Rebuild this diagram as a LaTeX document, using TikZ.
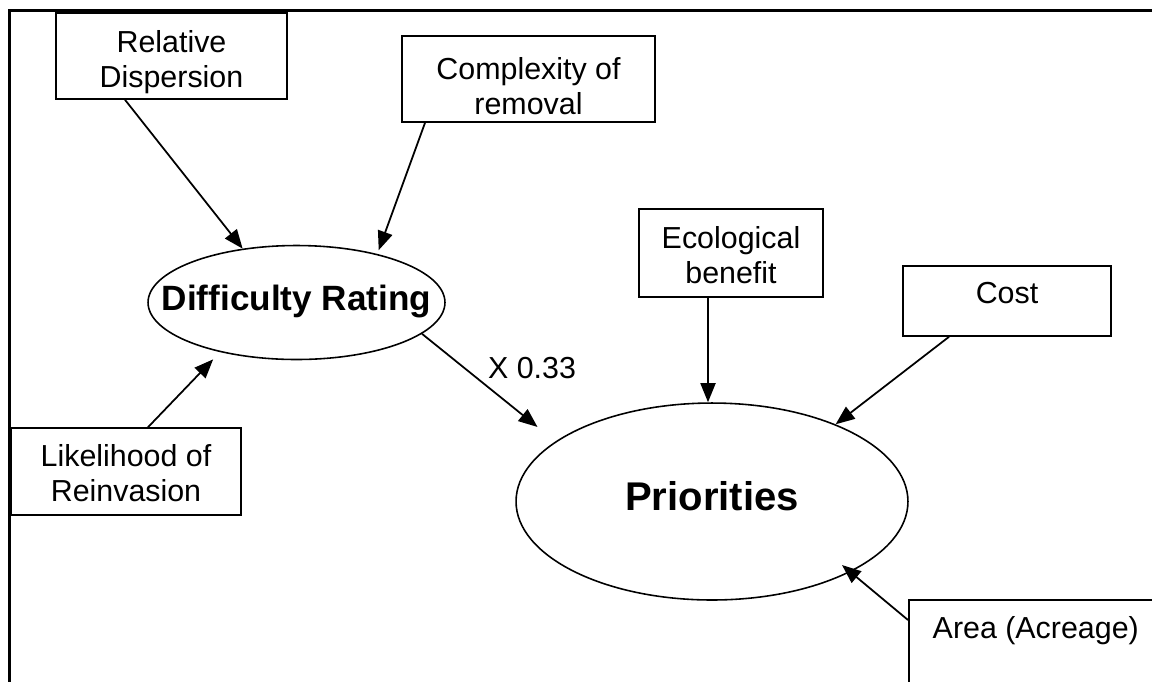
\documentclass[tikz,border=0pt]{standalone}
\usepackage{fontspec}
\setmainfont{Liberation Sans}[Ligatures=NoCommon]
\usetikzlibrary{arrows.meta,shapes.geometric}
\begin{document}
\begin{tikzpicture}[x=0.02cm,y=-0.02cm,
  box/.style={draw, line width=0.9pt, rectangle, inner sep=0pt},
  txt/.style={inner sep=0pt, align=center, font=\fontsize{17.3}{19.9}\selectfont},
  oval/.style={draw, line width=0.9pt, ellipse, inner sep=0pt},
  arr/.style={line width=1pt, -{Triangle[length=0.38cm,width=0.3cm]}},
  frameline/.style={line width=0.06cm, line join=miter},
  lbl/.style={inner sep=0pt, font=\fontsize{17.3}{19.9}\selectfont}]
\useasboundingbox (0,0) rectangle (1152,681);
\clip (0,0) rectangle (1152,681);
\draw[frameline] (9.5,690) -- (9.5,10.5) -- (1160,10.5);

% boxes
\node[box, minimum width=4.62cm, minimum height=1.72cm,
      label={[txt, yshift=-0.12cm]center:Relative\\Dispersion}] (rd) at (171.5,56) {};
\node[box, minimum width=5.06cm, minimum height=1.72cm,
      label={[txt, yshift=-0.15cm]center:Complexity of\\removal}] (cr) at (528.5,79) {};
\node[box, minimum width=4.6cm, minimum height=1.74cm,
      label={[txt, yshift=-0.04cm]center:Likelihood of\\Reinvasion}] (lh) at (126,471.5) {};
\node[box, minimum width=3.68cm, minimum height=1.76cm,
      label={[txt, yshift=-0.04cm]center:Ecological\\benefit}] (eb) at (731,253) {};
\node[box, minimum width=4.16cm, minimum height=1.4cm,
      label={[txt, yshift=0.15cm]center:Cost}] (cost) at (1007,301) {};
\node[box, anchor=north west, minimum width=5.08cm, minimum height=2.2cm,
      label={[txt, yshift=0.48cm]center:Area (Acreage)}] (area) at (908,599) {};

% ellipses
\node[oval, minimum width=5.94cm, minimum height=2.28cm,
      label={[font=\fontsize{20}{24}\bfseries, yshift=0.03cm]center:Difficulty Rating}] (dr) at (296.5,302.5) {};
\node[oval, minimum width=7.84cm, minimum height=3.94cm,
      label={[font=\fontsize{22.8}{27}\bfseries, yshift=0.11cm]center:Priorities}] (p) at (712,501.5) {};

% label
\node[lbl] (w) at (532,368) {X 0.33};

% connectors
\draw[arr] ([xshift=-0.93cm]rd.south) -- (dr.135);
\draw[arr, shorten >=0.08cm] ([xshift=-2.07cm]cr.south) -- (dr.31);
\draw[arr, shorten >=0.2cm] ([xshift=0.44cm]lh.north) -- (dr.213);
\draw[arr, shorten >=0.46cm] (dr.-14) -- (p.159);
\draw[arr] ([xshift=-0.46cm]eb.south) -- ([xshift=-0.46cm]eb.south |- p.north);
\draw[arr] ([xshift=-1.16cm]cost.south) -- (p.32);
\draw[arr, shorten >=-0.22cm] ([yshift=-0.42cm]area.north west) -- (p.-27);
\end{tikzpicture}
\end{document}
